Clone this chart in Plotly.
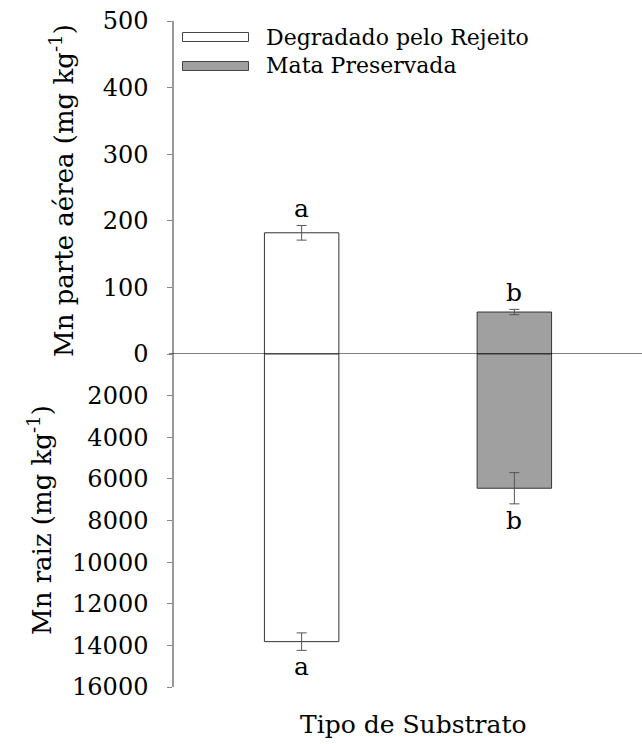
import plotly.graph_objects as go

categories = ["Degradado pelo Rejeito", "Mata Preservada"]
x_pos = [0, 1]
aerea_vals = [182, 63]
aerea_err = [11, 4]
aerea_letters = ["a", "b"]
raiz_vals = [13820, 6450]
raiz_err = [420, 750]
raiz_letters = ["a", "b"]
fills = ["#ffffff", "#a0a0a0"]

top_ticks = [0, 100, 200, 300, 400, 500]
bot_ticks = [2000, 4000, 6000, 8000, 10000, 12000, 14000, 16000]
bot_labels = ["2000", "4000", "6000", "8000", "10000", "12000", "14000", "16000"]

FONT = "DejaVu Serif"
fig = go.Figure()

for i in range(2):
    fig.add_trace(go.Bar(
        x=[x_pos[i]], y=[aerea_vals[i]], width=0.35, yaxis="y",
        marker=dict(color=fills[i], line=dict(color="#333333", width=1)),
        error_y=dict(type="data", array=[aerea_err[i]], color="#555555", thickness=1, width=5),
        showlegend=False))
    fig.add_trace(go.Bar(
        x=[x_pos[i]], y=[raiz_vals[i]], width=0.35, yaxis="y2",
        marker=dict(color=fills[i], line=dict(color="#333333", width=1)),
        error_y=dict(type="data", array=[raiz_err[i]], color="#555555", thickness=1, width=5),
        showlegend=False))

anns = []
for i in range(2):
    anns.append(dict(x=x_pos[i], y=aerea_vals[i] + aerea_err[i], xref="x", yref="y",
                     text=aerea_letters[i], showarrow=False, xanchor="center", yanchor="bottom", yshift=0,
                     font=dict(family=FONT, size=25, color="black")))
    anns.append(dict(x=x_pos[i], y=raiz_vals[i] + raiz_err[i], xref="x", yref="y2",
                     text=raiz_letters[i], showarrow=False, xanchor="center", yanchor="top", yshift=0,
                     font=dict(family=FONT, size=25, color="black")))

anns.append(dict(x=-0.239, y=0.745, xref="paper", yref="paper", textangle=-90,
                 xanchor="center", yanchor="middle",
                 text="Mn parte aérea (mg kg<sup>-1</sup>)", showarrow=False,
                 font=dict(family=FONT, size=26, color="black")))
anns.append(dict(x=-0.286, y=0.251, xref="paper", yref="paper", textangle=-90,
                 xanchor="center", yanchor="middle",
                 text="Mn raiz (mg kg<sup>-1</sup>)", showarrow=False,
                 font=dict(family=FONT, size=26, color="black")))
anns.append(dict(x=0.51, y=-0.057, xref="paper", yref="paper",
                 xanchor="center", yanchor="middle",
                 text="Tipo de Substrato", showarrow=False,
                 font=dict(family=FONT, size=25, color="black")))

PW = 468.0
PH = 666.0
def px_x(p):
    return (p - 174) / PW
def px_y(p):
    return (687 - p) / PH

shapes = []
leg_rows = [37, 66]
for i in range(2):
    shapes.append(dict(type="rect", xref="paper", yref="paper",
                       x0=px_x(182.5), x1=px_x(248.5), y0=px_y(leg_rows[i] - 4.5), y1=px_y(leg_rows[i] + 4.5),
                       fillcolor=fills[i], line=dict(color="#444444", width=1)))
    anns.append(dict(x=px_x(264), y=px_y(leg_rows[i]), xref="paper", yref="paper",
                     text=categories[i], showarrow=False, xanchor="left", yanchor="middle",
                     font=dict(family=FONT, size=22, color="black")))

shapes.append(dict(type="line", xref="paper", yref="y", x0=px_x(169), x1=1, y0=0, y1=0,
                   line=dict(color="black", width=1), layer="above"))

fig.update_layout(
    width=642, height=744,
    margin=dict(l=174, r=0, t=21, b=57),
    paper_bgcolor="white", plot_bgcolor="white",
    barmode="overlay",
    showlegend=False,
    font=dict(family=FONT),
    xaxis=dict(range=[-0.6, 1.6], showticklabels=False, showline=False, showgrid=False,
               zeroline=False, ticks=""),
    yaxis=dict(domain=[0.5, 1], range=[0, 500], tickvals=top_ticks, ticks="outside", ticklen=5,
               tickcolor="#888888", showline=True, linecolor="#999999", linewidth=1.5,
               showgrid=False, zeroline=False, ticklabelstandoff=14,
               tickfont=dict(family=FONT, size=24, color="black")),
    yaxis2=dict(domain=[0, 0.5], range=[16000, 0], tickvals=bot_ticks, ticktext=bot_labels,
                ticks="outside", ticklen=5,
                tickcolor="#888888", showline=True, linecolor="#999999", linewidth=1.5,
                showgrid=False, zeroline=False, anchor="x", ticklabelstandoff=14,
                tickfont=dict(family=FONT, size=24, color="black")),
    annotations=anns,
    shapes=shapes,
)

fig.write_html("out.html")
